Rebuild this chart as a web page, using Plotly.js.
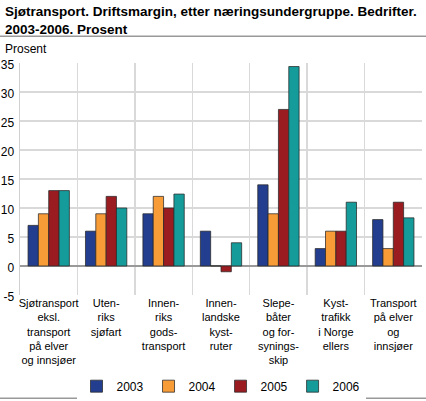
<!DOCTYPE html>
<html><head><meta charset="utf-8">
<script src="https://cdn.plot.ly/plotly-3.0.1.min.js"></script>
<style>html,body{margin:0;padding:0;background:#fff}#chart{width:426px;height:401px}</style>
</head><body><div id="chart"></div>
<script>
var categories = [
  "Sjøtransport<br>eksl.<br>transport<br>på elver<br>og innsjøer",
  "Uten-<br>riks<br>sjøfart",
  "Innen-<br>riks<br>gods-<br>transport",
  "Innen-<br>landske<br>kyst-<br>ruter",
  "Slepe-<br>båter<br>og for-<br>synings-<br>skip",
  "Kyst-<br>trafikk<br>i Norge<br>ellers",
  "Transport<br>på elver<br>og<br>innsjøer"
];
var years = ["2003", "2004", "2005", "2006"];
var v2003 = [7, 6, 9, 6, 14, 3, 8];
var v2004 = [9, 9, 12, 0, 9, 6, 3];
var v2005 = [13, 12, 10, -1, 27, 6, 11];
var v2006 = [13, 10, 12.4, 4, 34.4, 11, 8.3];
var yTicks = [-5, 0, 5, 10, 15, 20, 25, 30, 35];
var yTickText = ["-5", "0", "5", "10", "15", "20", "25", "30", "35"];
var colors = ["#233e8f", "#f89c38", "#9a1c21", "#149b9a"];
var series = [v2003, v2004, v2005, v2006];

var traces = series.map(function (vals, i) {
  return {
    type: "bar", name: years[i], x: categories, y: vals,
    marker: {color: colors[i], line: {color: "rgba(40,40,40,0.75)", width: 1}},
    hoverinfo: "y"
  };
});

var layout = {
  width: 426, height: 401,
  margin: {l: 20, r: 4, t: 63, b: 106},
  paper_bgcolor: "#fff", plot_bgcolor: "#fff",
  font: {family: "Liberation Sans, Arial, sans-serif", color: "#000", size: 12},
  barmode: "group", bargap: 0.28, bargroupgap: 0,
  showlegend: true,
  legend: {orientation: "h", x: 0.5, xanchor: "center", yref: "container", y: 0.037, yanchor: "middle",
    font: {size: 12}, traceorder: "normal"},
  xaxis: {
    type: "category", tickson: "boundaries", showgrid: true, gridcolor: "#d9d9d9", gridwidth: 1.5,
    ticks: "", tickangle: 0, tickfont: {size: 11}, showline: false, zeroline: false,
    ticklabeloverflow: "allow", automargin: false, fixedrange: true
  },
  yaxis: {
    range: [-5.01, 35.01], tickmode: "array", tickvals: yTicks, ticktext: yTickText,
    showgrid: true, gridcolor: "#d9d9d9", gridwidth: 1.5,
    zeroline: true, zerolinecolor: "#999", zerolinewidth: 1.5,
    showline: true, linecolor: "#d0d0d0", linewidth: 1.5,
    ticks: "", tickfont: {size: 12}, ticklabelshift: 2, ticklabelstandoff: 2,
    ticklabeloverflow: "allow", automargin: false, fixedrange: true
  },
  annotations: [
    {text: "<b>Sjøtransport. Driftsmargin, etter næringsundergruppe. Bedrifter.<br>2003-2006. Prosent</b>",
     xref: "paper", yref: "paper", x: -0.043, y: 1.262, xanchor: "left", yanchor: "top", align: "left",
     showarrow: false, font: {size: 13.5}},
    {text: "Prosent", xref: "paper", yref: "paper", x: -0.043, y: 1.062, xanchor: "left", yanchor: "middle",
     showarrow: false, font: {size: 12}}
  ],
  shapes: [
    {type: "line", xref: "paper", yref: "paper", x0: -0.05, x1: 1.01, y0: 1.115, y1: 1.115,
     line: {color: "#999", width: 1.5}},
    {type: "line", xref: "paper", yref: "paper", x0: -0.05, x1: 1.01, y0: -0.445, y1: -0.445,
     line: {color: "#999", width: 1.5}}
  ]
};
Plotly.newPlot("chart", traces, layout, {displayModeBar: false, staticPlot: true});
</script></body></html>
